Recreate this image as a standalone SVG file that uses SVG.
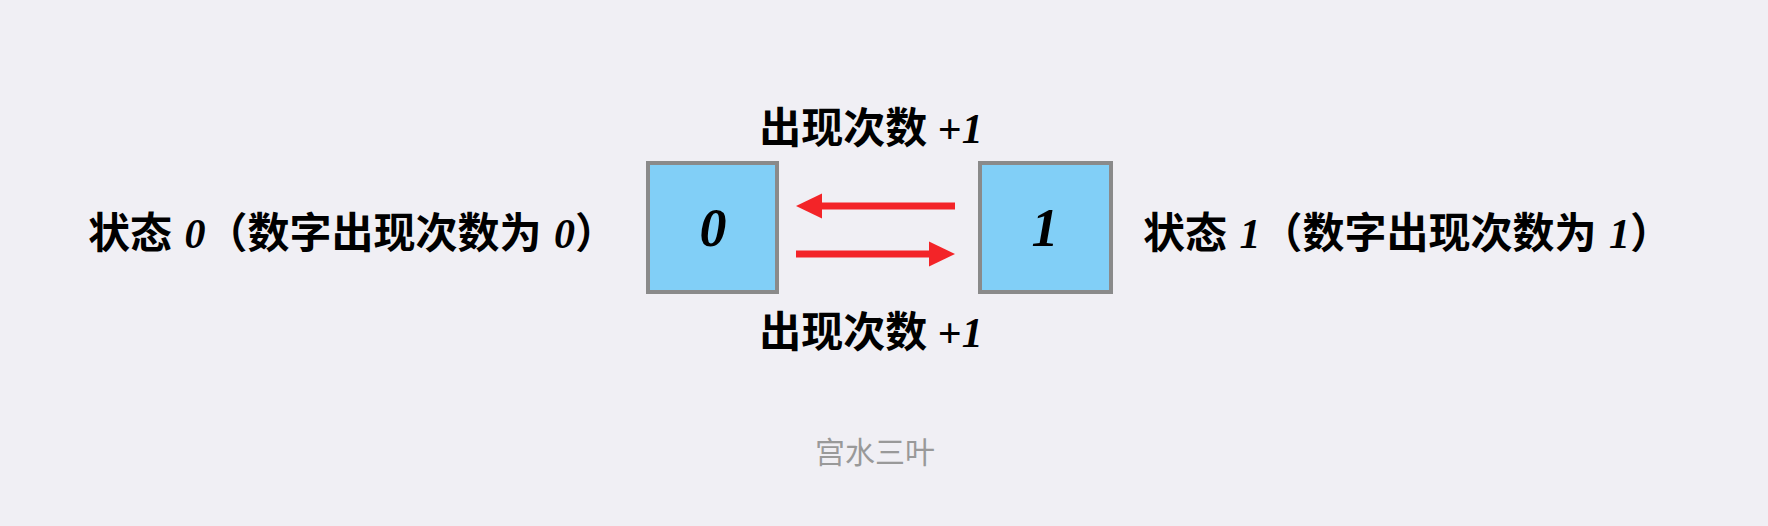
<svg xmlns="http://www.w3.org/2000/svg" width="1768" height="526" viewBox="0 0 1768 526">
<style>
.bg{fill:#f0eff4}
.box{fill:#81cff7;stroke:#8a8a8a;stroke-width:4}
.num{font-family:"Liberation Serif",serif;font-weight:bold;font-style:italic;font-size:54px;fill:#000;text-anchor:middle}
.lbl{font-family:"Liberation Serif","Noto Sans CJK SC",serif;font-weight:bold;font-size:42px;fill:#000}
.side{font-family:"Liberation Serif","Noto Sans CJK SC",serif;font-weight:bold;font-size:42px;fill:#000;word-spacing:2px}
.it{font-style:italic}
.wm{font-family:"Noto Sans CJK SC",sans-serif;font-size:30px;fill:#999;text-anchor:middle}
.edge{stroke:#f32428;stroke-width:7;fill:none}
.head{fill:#f32428}
</style>
<rect class="bg" x="0" y="0" width="1768" height="526"/>
<g id="node-0">
<rect class="box" x="648" y="163" width="129" height="129"/>
<text class="num" x="713" y="246">0</text>
</g>
<g id="node-1">
<rect class="box" x="980" y="163" width="131" height="129"/>
<text class="num" x="1045" y="246">1</text>
</g>
<g id="label-state0">
<text class="side" x="88" y="248">状态 <tspan class="it">0</tspan>（数字出现次数为 <tspan class="it">0</tspan>）</text>
</g>
<g id="label-state1">
<text class="side" x="1143" y="248">状态 <tspan class="it">1</tspan>（数字出现次数为 <tspan class="it">1</tspan>）</text>
</g>
<g id="connectors">
<line class="edge" x1="955" y1="206" x2="818" y2="206"/>
<polygon class="head" points="796,206 822,193.5 822,218.5"/>
<line class="edge" x1="796" y1="254" x2="933" y2="254"/>
<polygon class="head" points="955,254 929,241.5 929,266.5"/>
<text class="lbl" x="871" y="143" text-anchor="middle">出现次数 +<tspan class="it">1</tspan></text>
<text class="lbl" x="871" y="347" text-anchor="middle">出现次数 +<tspan class="it">1</tspan></text>
</g>
<g id="watermark">
<text class="wm" x="875" y="463">宫水三叶</text>
</g>
</svg>
